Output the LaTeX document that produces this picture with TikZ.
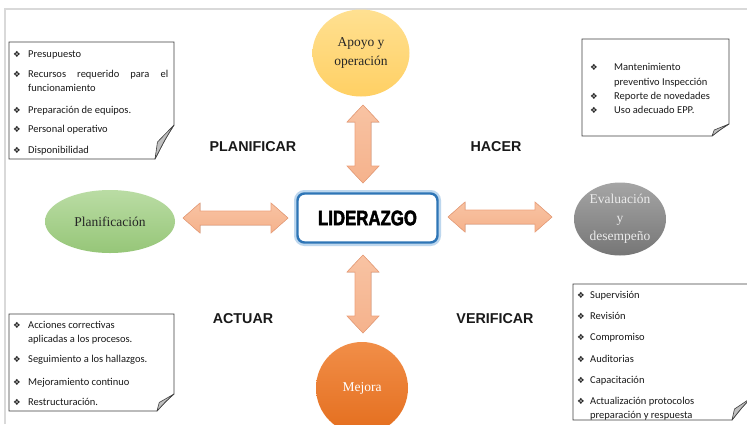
\documentclass[tikz,border=0pt]{standalone}
\usepackage{graphicx}
\usepackage{fontspec}
\setmainfont{Carlito}
\newfontfamily\dejavu{DejaVu Sans}
\newfontfamily\serifx{Liberation Serif}
\newfontfamily\arialx{Liberation Sans}
\newfontfamily\liderfont{Liberation Sans}[BoldFeatures={FakeBold=2.5}]
\usetikzlibrary{shapes.geometric}
\definecolor{framegray}{HTML}{D9D9D9}
\definecolor{salmon}{HTML}{F5B28C}
\definecolor{salmonL}{HTML}{F8C3A3}
\definecolor{salmonD}{HTML}{EFA27C}
\definecolor{liderblue}{HTML}{2E75B6}
\definecolor{liderglow}{HTML}{BDD7EE}
\definecolor{notegray}{HTML}{404040}
\definecolor{foldgray}{HTML}{C0C0C0}
\newcommand\notebox[6]{%
  \filldraw[notestyle] (#1,#2) -- (#3,#2) -- (#3,#4-#6) .. controls (#3-0.45*#5,#4-0.6*#6) .. (#3-#5,#4) -- (#1,#4) -- cycle;
  \filldraw[foldstyle] (#3,#4-#6) .. controls (#3-0.45*#5,#4-0.6*#6) .. (#3-#5,#4) -- (#3-0.87*#5,#4-0.5*#6) -- cycle;
}
\newcommand\blkarrowH[4]{% name x1 x2 y
  \filldraw[blkarrow] (#2,#4) -- (#2+17,#4-15) -- (#2+17,#4-7) -- (#3-17,#4-7) -- (#3-17,#4-15) -- (#3,#4)
    -- (#3-17,#4+15) -- (#3-17,#4+7) -- (#2+17,#4+7) -- (#2+17,#4+15) -- cycle;
}
\newcommand\blkarrowV[4]{% name y1 y2 x
  \filldraw[blkarrow] (#4,#2) -- (#4+16,#2+17) -- (#4+8,#2+17) -- (#4+8,#3-17) -- (#4+16,#3-17) -- (#4,#3)
    -- (#4-16,#3-17) -- (#4-8,#3-17) -- (#4-8,#2+17) -- (#4-16,#2+17) -- cycle;
}
\begin{document}
\begin{tikzpicture}[x=1pt,y=-1pt,
  notestyle/.style={draw=notegray, fill=white, line width=0.8pt},
  foldstyle/.style={draw=notegray, fill=foldgray, line width=0.6pt, line join=round},
  blkarrow/.style={draw=salmonD, line width=0.6pt, top color=salmonL, bottom color=salmon},
  txt/.style={anchor=base west, inner sep=0pt, font=\fontsize{10.5}{12}\selectfont, text=black!90},
  bul/.style={anchor=base west, inner sep=0pt, font=\dejavu\fontsize{8.5}{9}\selectfont, text=black!85},
  ell/.style={ellipse, inner sep=0pt, align=center, font=\serifx\fontsize{13.5}{19}\selectfont},
  phase/.style={inner sep=0pt, font=\arialx\bfseries\fontsize{14.3}{16}\selectfont, text=black!90},
  lider/.style={rounded corners=7pt, draw=liderblue, line width=2.4pt, fill=white,
    preaction={draw=liderglow, line width=7pt},
    minimum width=140pt, minimum height=49pt, inner sep=0pt}
]
\useasboundingbox (0,0) rectangle (747,424);
\fill[white] (0,0) rectangle (747,424);
\draw[framegray, line width=1.5pt] (5,424) -- (5,9) -- (747,9);

% ellipses
\node[ell, minimum width=97pt, minimum height=87pt, top color={rgb,255:red,255;green,224;blue,145}, bottom color={rgb,255:red,255;green,208;blue,100}, text=black!85] (apoyo) at (361,53) {Apoyo y\\operación};
\node[ell, minimum width=130pt, minimum height=63pt, top color={rgb,255:red,186;green,220;blue,164}, bottom color={rgb,255:red,150;green,198;blue,120}, text=black!85] (plan) at (110,221.5) {Planificación};
\node[ell, minimum width=92pt, minimum height=73pt, top color={rgb,255:red,165;green,165;blue,165}, bottom color={rgb,255:red,118;green,118;blue,118}, text=white!92!black, font=\serifx\fontsize{13.5}{18.5}\selectfont] (eval) at (620,219) {Evaluación\\y\\desempeño};
\node[ell, minimum width=92pt, minimum height=92pt, top color={rgb,255:red,241;green,142;blue,72}, bottom color={rgb,255:red,228;green,110;blue,30}, text=white] (mejora) at (362,388) {Mejora};

% arrows
\blkarrowH{al}{183}{288}{218}
\blkarrowH{ar}{448}{552}{217}
\blkarrowV{at}{105}{183}{363}
\blkarrowV{ab}{255}{333}{363}

% central box
\node[lider] (lid) at (367.5,218) {\liderfont\bfseries\fontsize{21}{21}\selectfont\scalebox{0.8}[1]{LIDERAZGO}};

% phase labels
\node[phase] (planificar) at (253,147) {PLANIFICAR};
\node[phase] (hacer) at (496,147) {HACER};
\node[phase] (actuar) at (243,319) {ACTUAR};
\node[phase] (verificar) at (495,319) {VERIFICAR};

% top-left note
\notebox{9}{42}{174}{159}{19}{34}
\node[bul] (tlb1) at (13,57.5) {❖};
\node[txt] (tl1) at (28,57.5) {Presupuesto};
\node[bul] (tlb2) at (13,77.5) {❖};
\node[txt] (tl2) at (28,77.5) {\makebox[140pt][s]{Recursos requerido para el}};
\node[txt] (tl3) at (28,91.5) {funcionamiento};
\node[bul] (tlb4) at (13,113.5) {❖};
\node[txt] (tl4) at (28,113.5) {Preparación de equipos.};
\node[bul] (tlb5) at (13,132.5) {❖};
\node[txt] (tl5) at (28,132.5) {Personal operativo};
\node[bul] (tlb6) at (13,153.5) {❖};
\node[txt] (tl6) at (28,153.5) {Disponibilidad};

% top-right note
\notebox{582}{39}{729}{136}{17}{12}
\node[bul] (trb1) at (590,70) {❖};
\node[txt] (tr1) at (614,70) {Mantenimiento};
\node[txt] (tr2) at (614,85) {preventivo Inspección};
\node[bul] (trb3) at (590,99.5) {❖};
\node[txt] (tr3) at (614,99.5) {Reporte de novedades};
\node[bul] (trb4) at (590,113) {❖};
\node[txt] (tr4) at (614,113) {Uso adecuado EPP.};

% bottom-left note
\notebox{9}{314}{174}{411}{17}{17}
\node[bul] (blb1) at (13,328.5) {❖};
\node[txt] (bl1) at (28,328.5) {Acciones correctivas};
\node[txt] (bl2) at (28,342.5) {aplicadas a los procesos.};
\node[bul] (blb3) at (13,362.5) {❖};
\node[txt] (bl3) at (28,362.5) {Seguimiento a los hallazgos.};
\node[bul] (blb4) at (13,385.5) {❖};
\node[txt] (bl4) at (28,385.5) {Mejoramiento continuo};
\node[bul] (blb5) at (13,405.5) {❖};
\node[txt] (bl5) at (28,405.5) {Restructuración.};

% bottom-right note
\notebox{573}{284}{751}{420}{19}{22}
\node[bul] (brb1) at (577,298.5) {❖};
\node[txt] (br1) at (590,298.5) {Supervisión};
\node[bul] (brb2) at (577,319.5) {❖};
\node[txt] (br2) at (590,319.5) {Revisión};
\node[bul] (brb3) at (577,340.5) {❖};
\node[txt] (br3) at (590,340.5) {Compromiso};
\node[bul] (brb4) at (577,362) {❖};
\node[txt] (br4) at (590,362) {Auditorias};
\node[bul] (brb5) at (577,383) {❖};
\node[txt] (br5) at (590,383) {Capacitación};
\node[bul] (brb6) at (577,404) {❖};
\node[txt] (br6) at (590,404) {Actualización protocolos};
\node[txt] (br7) at (590,418) {preparación y respuesta};
\end{tikzpicture}
\end{document}
